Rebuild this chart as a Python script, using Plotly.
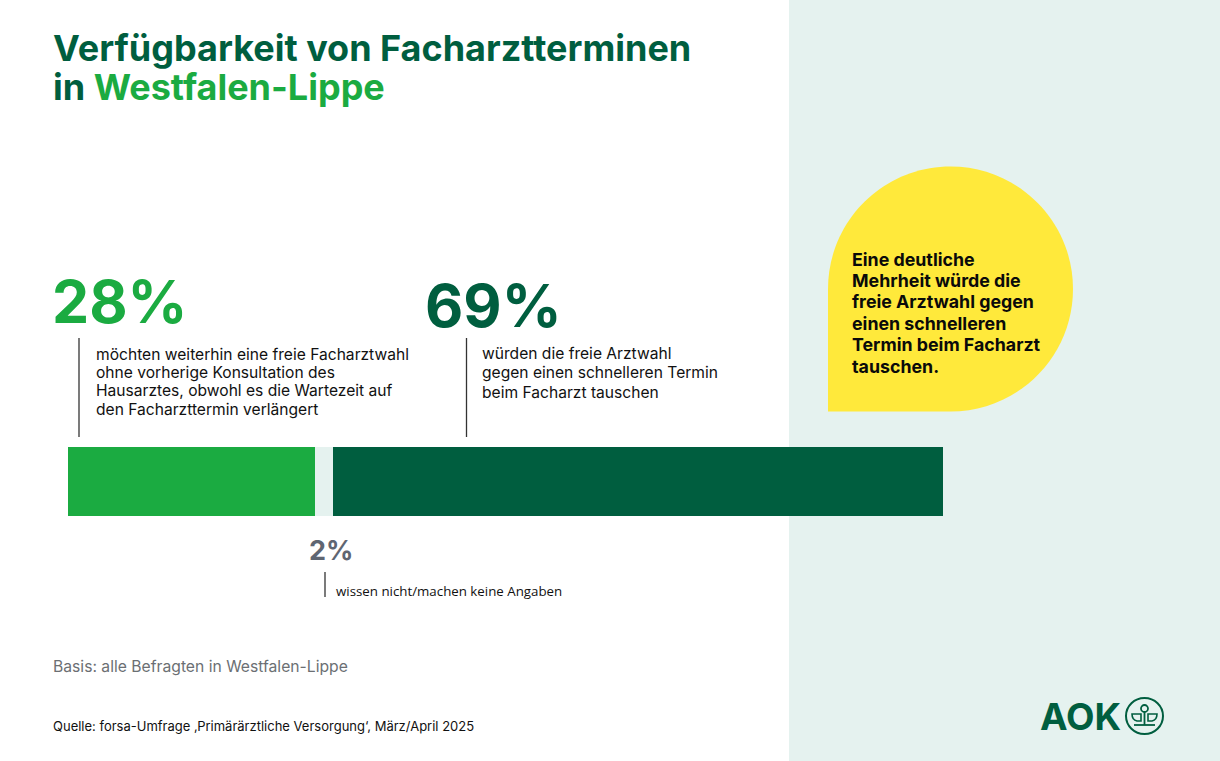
import plotly.graph_objects as go

# Umfragewerte
kategorien = ["freie Facharztwahl", "weiß nicht / keine Angabe", "schnellerer Termin"]
werte = [28, 2, 69]
farben = ["#1bab41", "#e5f2ef", "#005e3f"]
prozent_labels = ["28%", "2%", "69%"]

titel_1 = "Verfügbarkeit von Facharztterminen"
titel_2 = "in <span style='color:#1bab41'>Westfalen-Lippe</span>"
text_28 = ["möchten weiterhin eine freie Facharztwahl", "ohne vorherige Konsultation des",
           "Hausarztes, obwohl es die Wartezeit auf", "den Facharzttermin verlängert"]
text_69 = ["würden die freie Arztwahl", "gegen einen schnelleren Termin", "beim Facharzt tauschen"]
text_2 = "wissen nicht/machen keine Angaben"
text_blase = ["Eine deutliche", "Mehrheit würde die", "freie Arztwahl gegen",
              "einen schnelleren", "Termin beim Facharzt", "tauschen."]
basis = "Basis: alle Befragten in Westfalen-Lippe"
quelle = "Quelle: forsa-Umfrage ‚Primärärztliche Versorgung‘, März/April 2025"

W, H = 1220, 761
DUNKEL = "#005e3f"
FONT = "Inter"

fig = go.Figure()
for name, wert, farbe in zip(kategorien, werte, farben):
    fig.add_trace(go.Bar(x=[wert], y=["Anteil"], name=name, orientation="h", xaxis="x2", yaxis="y2",
                         marker=dict(color=farbe, line=dict(width=0)), hoverinfo="name+x"))

# Achsen x/y laufen in Bildpixeln, damit Texte und Formen leicht zu setzen sind
def text(x, y, s, size, color="#111111", weight=400, family=FONT):
    fig.add_annotation(x=x, y=y, xref="x", yref="y", text=s, showarrow=False, xanchor="left",
                       yanchor="middle", align="left", xshift=-2,
                       font=dict(size=size, color=color, family=family, weight=weight))

# mehrzeilig, jede Zeile einzeln wegen des engeren Zeilenabstands
def block(x, y, zeilen, size, abstand, color="#111111", weight=400):
    for i, zeile in enumerate(zeilen):
        text(x, y + i * abstand, zeile, size, color, weight)

def linie(x, y0, y1, color="#333333", width=1.3):
    fig.add_shape(type="line", x0=x, x1=x, y0=y0, y1=y1, xref="x", yref="y",
                  line=dict(color=color, width=width))

# Hintergrund rechts
fig.add_shape(type="rect", x0=789, x1=W, y0=0, y1=H, xref="x", yref="y", layer="below",
              fillcolor="#e5f2ef", line_width=0)

# gelbe Sprechblase
cx, cy, r = 950.5, 289, 122.5
k = r * 0.5523
blase = (f"M {cx-r} {cy+r} L {cx-r} {cy} "
         f"C {cx-r} {cy-k} {cx-k} {cy-r} {cx} {cy-r} "
         f"C {cx+k} {cy-r} {cx+r} {cy-k} {cx+r} {cy} "
         f"C {cx+r} {cy+k} {cx+k} {cy+r} {cx} {cy+r} Z")
fig.add_shape(type="path", path=blase, xref="x", yref="y", layer="below",
              fillcolor="#ffe93b", line_width=0)

text(53, 48, titel_1, 36, DUNKEL, 700)
text(53, 87, titel_2, 36, DUNKEL, 700)

text(52, 301, prozent_labels[0], 59, farben[0], 700)
text(425, 305, prozent_labels[2], 59, DUNKEL, 700)
text(309, 550, prozent_labels[1], 27, "#5f6672", 700)

linie(79, 338, 437)
linie(466.5, 338, 437)
linie(325, 572, 597)

block(96, 354, text_28, 15.6, 18.4)
block(482, 353, text_69, 15.6, 19.5)
text(336, 591, text_2, 13.3, family="Open Sans")
block(852, 259, text_blase, 17.8, 21.4, "#0a0a0a", 700)

text(53, 666, basis, 15.7, "#6b6f73")
text(53, 726, quelle, 13, "#111111")

# AOK-Logo
text(1040, 716, "AOK", 37, DUNKEL, 700)
fig.add_shape(type="circle", x0=1126, x1=1163, y0=698, y1=734, xref="x", yref="y",
              line=dict(color=DUNKEL, width=2))
fig.add_shape(type="circle", x0=1141, x1=1148, y0=705, y1=712, xref="x", yref="y",
              line=dict(color=DUNKEL, width=1.8))
linie(1144.5, 712, 725, DUNKEL, 1.8)
fig.add_shape(type="path", path="M 1132 714 L 1141 714 L 1141 721 L 1137 721 Q 1132 720 1132 714 Z", xref="x", yref="y",
              line=dict(color=DUNKEL, width=1.6))
fig.add_shape(type="path", path="M 1157 714 L 1148 714 L 1148 721 L 1152 721 Q 1157 720 1157 714 Z", xref="x", yref="y",
              line=dict(color=DUNKEL, width=1.6))
fig.add_shape(type="line", x0=1134, x1=1155, y0=725, y1=725, xref="x", yref="y",
              line=dict(color=DUNKEL, width=1.8))

fig.update_layout(
    width=W, height=H, margin=dict(l=0, r=0, t=0, b=0),
    barmode="stack", bargap=0, showlegend=False,
    paper_bgcolor="white", plot_bgcolor="rgba(0,0,0,0)",
    xaxis=dict(domain=[0, 1], range=[0, W], visible=False),
    yaxis=dict(domain=[0, 1], range=[H, 0], visible=False),
    xaxis2=dict(domain=[68 / W, 943 / W], range=[0, sum(werte)], visible=False, anchor="y2"),
    yaxis2=dict(domain=[(H - 516) / H, (H - 447) / H], visible=False, anchor="x2"),
)

fig.write_html("out.html", config=dict(displayModeBar=False),
               post_script="document.body.style.margin = '0';")
